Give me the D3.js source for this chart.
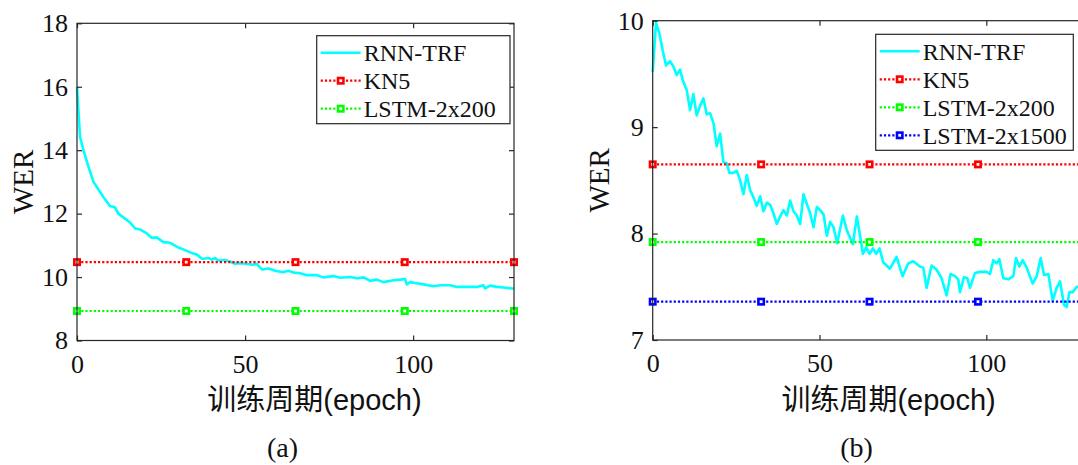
<!DOCTYPE html>
<html>
<head>
<meta charset="utf-8">
<script src="https://cdn.jsdelivr.net/npm/d3@7"></script>
<style>
  html, body { margin: 0; padding: 0; background: #fff; overflow: hidden; }
  svg { display: block; }
</style>
</head>
<body>
<svg id="fig" width="1078" height="465"></svg>
<script>
// ---- Panel (a): WER vs. training epoch ----
const epochsA = [0, 0.9, 1.9, 3.4, 4.9, 7.8, 9.8, 11.3, 12.3, 15.8, 17.3, 18.75, 20.7, 22.2, 23.7, 25.7, 27.7,
  30.2, 32.1, 34.6, 35.6, 37.3, 39.1, 40.1, 41.1, 42.0, 44.0, 45.5, 47.0, 48.5, 50.5, 52, 53.5, 55.0, 57, 59,
  61.2, 62.9, 64.4, 66.4, 68.4, 71.4, 73.3, 76.3, 78.3, 81.3, 83.3, 85.3, 87.2, 89.2, 91.2, 94.2, 96.2, 97.6,
  98.1, 99.1, 100.6, 103.1, 106.0, 108.0, 111.0, 113.0, 115.9, 118.9, 120.9, 121.4, 122.9, 124.9, 126.9, 129.4, 130];
const werA = [16.0, 14.42, 14.0, 13.48, 13.0, 12.53, 12.24, 12.2, 12.0, 11.72, 11.53, 11.5, 11.38, 11.24, 11.25,
  11.1, 11.08, 10.93, 10.85, 10.74, 10.71, 10.57, 10.6, 10.55, 10.6, 10.52, 10.54, 10.49, 10.42, 10.44, 10.42,
  10.39, 10.41, 10.24, 10.27, 10.2, 10.15, 10.2, 10.14, 10.12, 10.06, 10.06, 9.99, 10.03, 9.98, 10.0, 9.96, 9.99,
  9.88, 9.92, 9.84, 9.9, 9.92, 9.94, 9.77, 9.84, 9.81, 9.77, 9.71, 9.74, 9.74, 9.69, 9.69, 9.69, 9.74, 9.64,
  9.73, 9.69, 9.67, 9.64, 9.63];
const kn5A = 10.47;
const lstm200A = 8.93;

// ---- Panel (b): WER vs. training epoch ----
const epochsB = [0, 1.0, 2.0, 3.0, 4.0, 5.2, 6.2, 7.2, 8.2, 9.0, 10.2, 11.2, 12.2, 13.2, 14.2, 15.2, 16.2, 17.2,
  18.2, 19.2, 20.2, 21.2, 22.2, 23.0, 24.2, 25.2, 26.2, 27.2, 28.2, 29.2, 30.2, 31.2, 32.2, 33.2, 34.2, 35.2,
  36.2, 37.2, 38.2, 39.2, 40.2, 41.2, 42.2, 43.2, 44.2, 45.2, 46.2, 47.2, 48.2, 49.2, 50.2, 51.2, 52.2, 53.2,
  54.2, 55.3, 57.0, 58.2, 60.0, 61.2, 62.2, 63.0, 64.0, 65.0, 66.0, 67.0, 68.0, 69.1, 71.1, 73.1, 74.9, 76.6,
  78.1, 80.1, 81.1, 82.1, 83.6, 85.1, 86.6, 88.1, 89.3, 90.6, 91.6, 92.1, 93.3, 94.3, 95.1, 96.6, 98.1, 100.1,
  101.1, 102.1, 103.1, 103.9, 105.1, 106.6, 108.1, 108.9, 109.9, 110.9, 112.1, 113.9, 115.1, 116.3, 117.3,
  118.6, 119.9, 121.1, 122.1, 123.3, 124.1, 124.9, 125.9, 127.1, 127.7, 129, 130];
const werB = [9.52, 9.98, 9.88, 9.72, 9.58, 9.62, 9.57, 9.49, 9.54, 9.44, 9.35, 9.16, 9.31, 9.11, 9.2, 9.27,
  9.12, 9.13, 9.04, 8.82, 8.94, 8.67, 8.66, 8.57, 8.57, 8.59, 8.5, 8.37, 8.55, 8.41, 8.34, 8.26, 8.35, 8.21,
  8.29, 8.27, 8.19, 8.09, 8.16, 8.22, 8.17, 8.31, 8.21, 8.17, 8.09, 8.37, 8.28, 8.19, 8.06, 8.25, 8.22, 8.18,
  7.98, 8.11, 8.06, 7.91, 8.17, 8.03, 7.9, 8.16, 7.97, 7.81, 7.87, 7.81, 7.86, 7.81, 7.86, 7.73, 7.67, 7.78,
  7.6, 7.72, 7.74, 7.69, 7.68, 7.49, 7.7, 7.66, 7.58, 7.42, 7.62, 7.6, 7.57, 7.45, 7.59, 7.58, 7.49, 7.63,
  7.64, 7.64, 7.62, 7.75, 7.72, 7.76, 7.58, 7.57, 7.6, 7.77, 7.69, 7.75, 7.68, 7.53, 7.6, 7.77, 7.61, 7.62,
  7.37, 7.49, 7.55, 7.33, 7.31, 7.45, 7.45, 7.5, 7.5, 7.53, 7.5];
const kn5B = 8.65;
const lstm200B = 7.92;
const lstm1500B = 7.36;

// Epochs at which the reference-model markers sit
const markerEpochs = [0, 32.5, 65, 97.5, 130];

const ticksA = { x: [0, 50, 100], y: [8, 10, 12, 14, 16, 18] };
const ticksB = { x: [0, 50, 100], y: [7, 8, 9, 10] };

const xLabelText = "训练周期(epoch)";
const yLabelText = "WER";

const SERIF = '"Liberation Serif", "Times New Roman", Times, serif';
const SANS = '"Liberation Sans", Arial, "Noto Sans CJK SC", sans-serif';
const TEXT_COLOR = "#111";

const svg = d3.select("#fig");
const AXIS_COLOR = "#262626";
const TICK_LEN = 5;

function serifText(sel, size) {
  return sel.attr("font-family", SERIF).style("font-family", SERIF)
    .attr("font-size", size).style("font-size", size + "px").attr("fill", TEXT_COLOR);
}

function drawPanel(opt) {
  const g = svg.append("g");
  const x = d3.scaleLinear().domain([0, 130]).range([opt.left, opt.right]);
  const y = d3.scaleLinear().domain(opt.yDomain).range([opt.bottom, opt.top]);

  const clipId = "clip-" + opt.id;
  svg.append("clipPath").attr("id", clipId)
    .append("rect").attr("x", opt.left - 6).attr("y", opt.top - 6)
    .attr("width", opt.right - opt.left + 12).attr("height", opt.bottom - opt.top + 12);

  const plot = g.append("g").attr("clip-path", `url(#${clipId})`);

  // RNN-TRF curve
  const line = d3.line().x((d) => x(d[0])).y((d) => y(d[1]));
  plot.append("path")
    .datum(d3.zip(opt.epochs, opt.wer))
    .attr("d", line)
    .attr("fill", "none")
    .attr("stroke", "#00ffff")
    .attr("stroke-width", 2.6)
    .attr("stroke-linejoin", "round");

  // reference models: dotted horizontal lines with square markers
  opt.refs.forEach((r) => {
    const pts = markerEpochs.map((e) => [e, r.value]);
    plot.append("path")
      .datum(pts)
      .attr("d", line)
      .attr("fill", "none")
      .attr("stroke", r.color)
      .attr("stroke-width", 2.2)
      .attr("stroke-dasharray", "2.2,2");
    plot.selectAll(null).data(pts).enter().append("rect")
      .attr("x", (d) => x(d[0]) - 2.7)
      .attr("y", (d) => y(d[1]) - 2.7)
      .attr("width", 5.4).attr("height", 5.4)
      .attr("fill", "#fff")
      .attr("stroke", r.color)
      .attr("stroke-width", 2.6);
  });

  // axes box with ticks on all four sides
  const axBottom = d3.axisBottom(x).tickValues(opt.ticks.x).tickSize(-TICK_LEN).tickPadding(10).tickFormat(d3.format("d"));
  const axTop = d3.axisTop(x).tickValues(opt.ticks.x).tickSize(-TICK_LEN).tickFormat("");
  const axLeft = d3.axisLeft(y).tickValues(opt.ticks.y).tickSize(-TICK_LEN).tickPadding(9).tickFormat(d3.format("d"));
  const axRight = d3.axisRight(y).tickValues(opt.ticks.y).tickSize(-TICK_LEN).tickFormat("");

  const styleAxis = (sel) => {
    sel.attr("font-family", null).attr("font-size", null);
    sel.selectAll(".tick line").attr("stroke", AXIS_COLOR).attr("stroke-width", 1.2);
    serifText(sel.selectAll(".tick text"), 26);
  };
  g.append("g").attr("transform", `translate(0,${opt.bottom})`).call(axBottom).call(styleAxis)
    .selectAll(".tick text").attr("dy", "0.85em");
  g.append("g").attr("transform", `translate(0,${opt.top})`).call(axTop).call(styleAxis);
  g.append("g").attr("transform", `translate(${opt.left},0)`).call(axLeft).call(styleAxis);
  g.append("g").attr("transform", `translate(${opt.right},0)`).call(axRight).call(styleAxis);
  g.selectAll(".domain").remove();
  g.append("rect")
    .attr("x", opt.left).attr("y", opt.top)
    .attr("width", opt.right - opt.left).attr("height", opt.bottom - opt.top)
    .attr("fill", "none").attr("stroke", AXIS_COLOR).attr("stroke-width", 1.2);

  // axis labels
  g.append("text")
    .attr("font-family", SANS).style("font-family", SANS)
    .attr("font-size", 29).attr("fill", TEXT_COLOR)
    .attr("x", (opt.left + opt.right) / 2 + 19).attr("y", 410)
    .attr("text-anchor", "middle")
    .text(xLabelText);
  serifText(g.append("text"), 29)
    .attr("transform", `translate(${opt.left - 44},${(opt.top + opt.bottom) / 2}) rotate(-90)`)
    .attr("text-anchor", "middle")
    .text(yLabelText);
  serifText(g.append("text"), 28)
    .attr("x", (opt.left + opt.right) / 2 - 13).attr("y", 457)
    .attr("text-anchor", "middle")
    .text(opt.caption);

  // legend
  const lg = g.append("g");
  const rowH = 28;
  const entries = [{ name: "RNN-TRF", color: "#00ffff", solid: true }].concat(opt.refs);
  lg.append("rect")
    .attr("x", opt.legend.x).attr("y", opt.legend.y)
    .attr("width", opt.legend.w).attr("height", entries.length * rowH + 4)
    .attr("fill", "#fff").attr("stroke", AXIS_COLOR).attr("stroke-width", 1.2);
  entries.forEach((e, i) => {
    const cy = opt.legend.y + 17 + i * rowH;
    const x0 = opt.legend.x + 4, x1 = opt.legend.x + 44;
    lg.append("line").attr("x1", x0).attr("x2", x1).attr("y1", cy).attr("y2", cy)
      .attr("stroke", e.color).attr("stroke-width", e.solid ? 2.6 : 2.2)
      .attr("stroke-dasharray", e.solid ? null : "2.2,2");
    if (!e.solid) {
      lg.append("rect").attr("x", (x0 + x1) / 2 - 2.7).attr("y", cy - 2.7)
        .attr("width", 5.4).attr("height", 5.4).attr("fill", "#fff")
        .attr("stroke", e.color).attr("stroke-width", 2.6);
    }
    serifText(lg.append("text"), 24)
      .attr("x", opt.legend.x + 47).attr("y", cy).attr("dy", "0.35em")
      .text(e.name);
  });
}

drawPanel({
  id: "a", caption: "(a)",
  left: 77, right: 514, top: 23.3, bottom: 340.5,
  yDomain: [8, 18], ticks: ticksA,
  epochs: epochsA, wer: werA,
  refs: [
    { name: "KN5", value: kn5A, color: "#ff0000" },
    { name: "LSTM-2x200", value: lstm200A, color: "#00ff00" }
  ],
  legend: { x: 316.7, y: 35.7, w: 193.3 }
});

drawPanel({
  id: "b", caption: "(b)",
  left: 652.7, right: 1086.4, top: 20.7, bottom: 340,
  yDomain: [7, 10], ticks: ticksB,
  epochs: epochsB, wer: werB,
  refs: [
    { name: "KN5", value: kn5B, color: "#ff0000" },
    { name: "LSTM-2x200", value: lstm200B, color: "#00ff00" },
    { name: "LSTM-2x1500", value: lstm1500B, color: "#0000ff" }
  ],
  legend: { x: 875.7, y: 34.3, w: 197.6 }
});
</script>
</body>
</html>
